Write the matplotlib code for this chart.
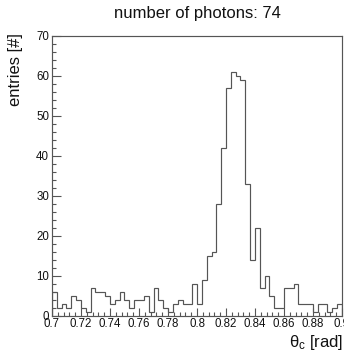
import numpy as np
import matplotlib
matplotlib.use("Agg")
import matplotlib.pyplot as plt
from matplotlib.ticker import MultipleLocator, FixedLocator

plt.rcParams['font.family'] = ['Liberation Sans', 'DejaVu Sans']
plt.rcParams['mathtext.fontset'] = 'custom'
plt.rcParams['mathtext.rm'] = 'Liberation Sans'
plt.rcParams['mathtext.it'] = 'Liberation Sans'

# histogram definition
x_min, x_max, n_bins = 0.7, 0.9, 60
counts = [6, 2, 3, 2, 5, 4, 2, 1, 7, 6,
          6, 5, 3, 4, 6, 4, 2, 4, 4, 5,
          1, 7, 4, 2, 1, 3, 4, 3, 3, 8,
          3, 9, 15, 16, 28, 42, 57, 61, 60, 59,
          33, 14, 22, 7, 10, 5, 2, 2, 7, 7,
          8, 3, 3, 3, 1, 3, 3, 1, 2, 3]
x_ticks = [0.7, 0.72, 0.74, 0.76, 0.78, 0.8, 0.82, 0.84, 0.86, 0.88, 0.9]
x_ticklabels = ["0.7", "0.72", "0.74", "0.76", "0.78", "0.8", "0.82", "0.84", "0.86", "0.88", "0.9"]
y_ticks = [0, 10, 20, 30, 40, 50, 60, 70]

title = "number of photons: 74"
xlabel = r"θ$_{\mathrm{c}}$ [rad]"
ylabel = "entries [#]"

W, H = 344, 354
fig = plt.figure(figsize=(W / 100, H / 100), dpi=100)
ax = fig.add_axes([52 / W, (H - 316) / H, 290 / W, 280 / H])

edges = np.linspace(x_min, x_max, n_bins + 1)
ax.stairs(counts, edges, color='#555555', lw=0.85, baseline=0)

ax.set_xlim(x_min, x_max)
ax.set_ylim(0, 70)
ax.xaxis.set_major_locator(FixedLocator(x_ticks))
ax.set_xticklabels(x_ticklabels)
ax.xaxis.set_minor_locator(MultipleLocator(0.004))
ax.yaxis.set_major_locator(FixedLocator(y_ticks))
ax.yaxis.set_minor_locator(MultipleLocator(2))

ax.tick_params(which='both', direction='in', top=False, right=False,
               labelsize=8.3, color='#555555', width=0.8, labelcolor='#111111')
ax.tick_params(axis='x', which='major', length=6.0, pad=1.5)
ax.tick_params(axis='x', which='minor', length=3.0)
ax.tick_params(axis='y', which='major', length=6.2, pad=2)
ax.tick_params(axis='y', which='minor', length=3.0)
for s in ax.spines.values():
    s.set_color('#555555')
    s.set_linewidth(0.85)

ax.set_title(title, fontsize=12, pad=13, color='#111111')
fig.text(16 / W, 1 - 33 / H, ylabel, rotation=90, ha='center', va='top',
         fontsize=12, color='#111111')
fig.text(343 / W, 7 / H, xlabel, ha='right', va='baseline', fontsize=12,
         color='#111111')

fig.savefig("out.png", dpi=100)
